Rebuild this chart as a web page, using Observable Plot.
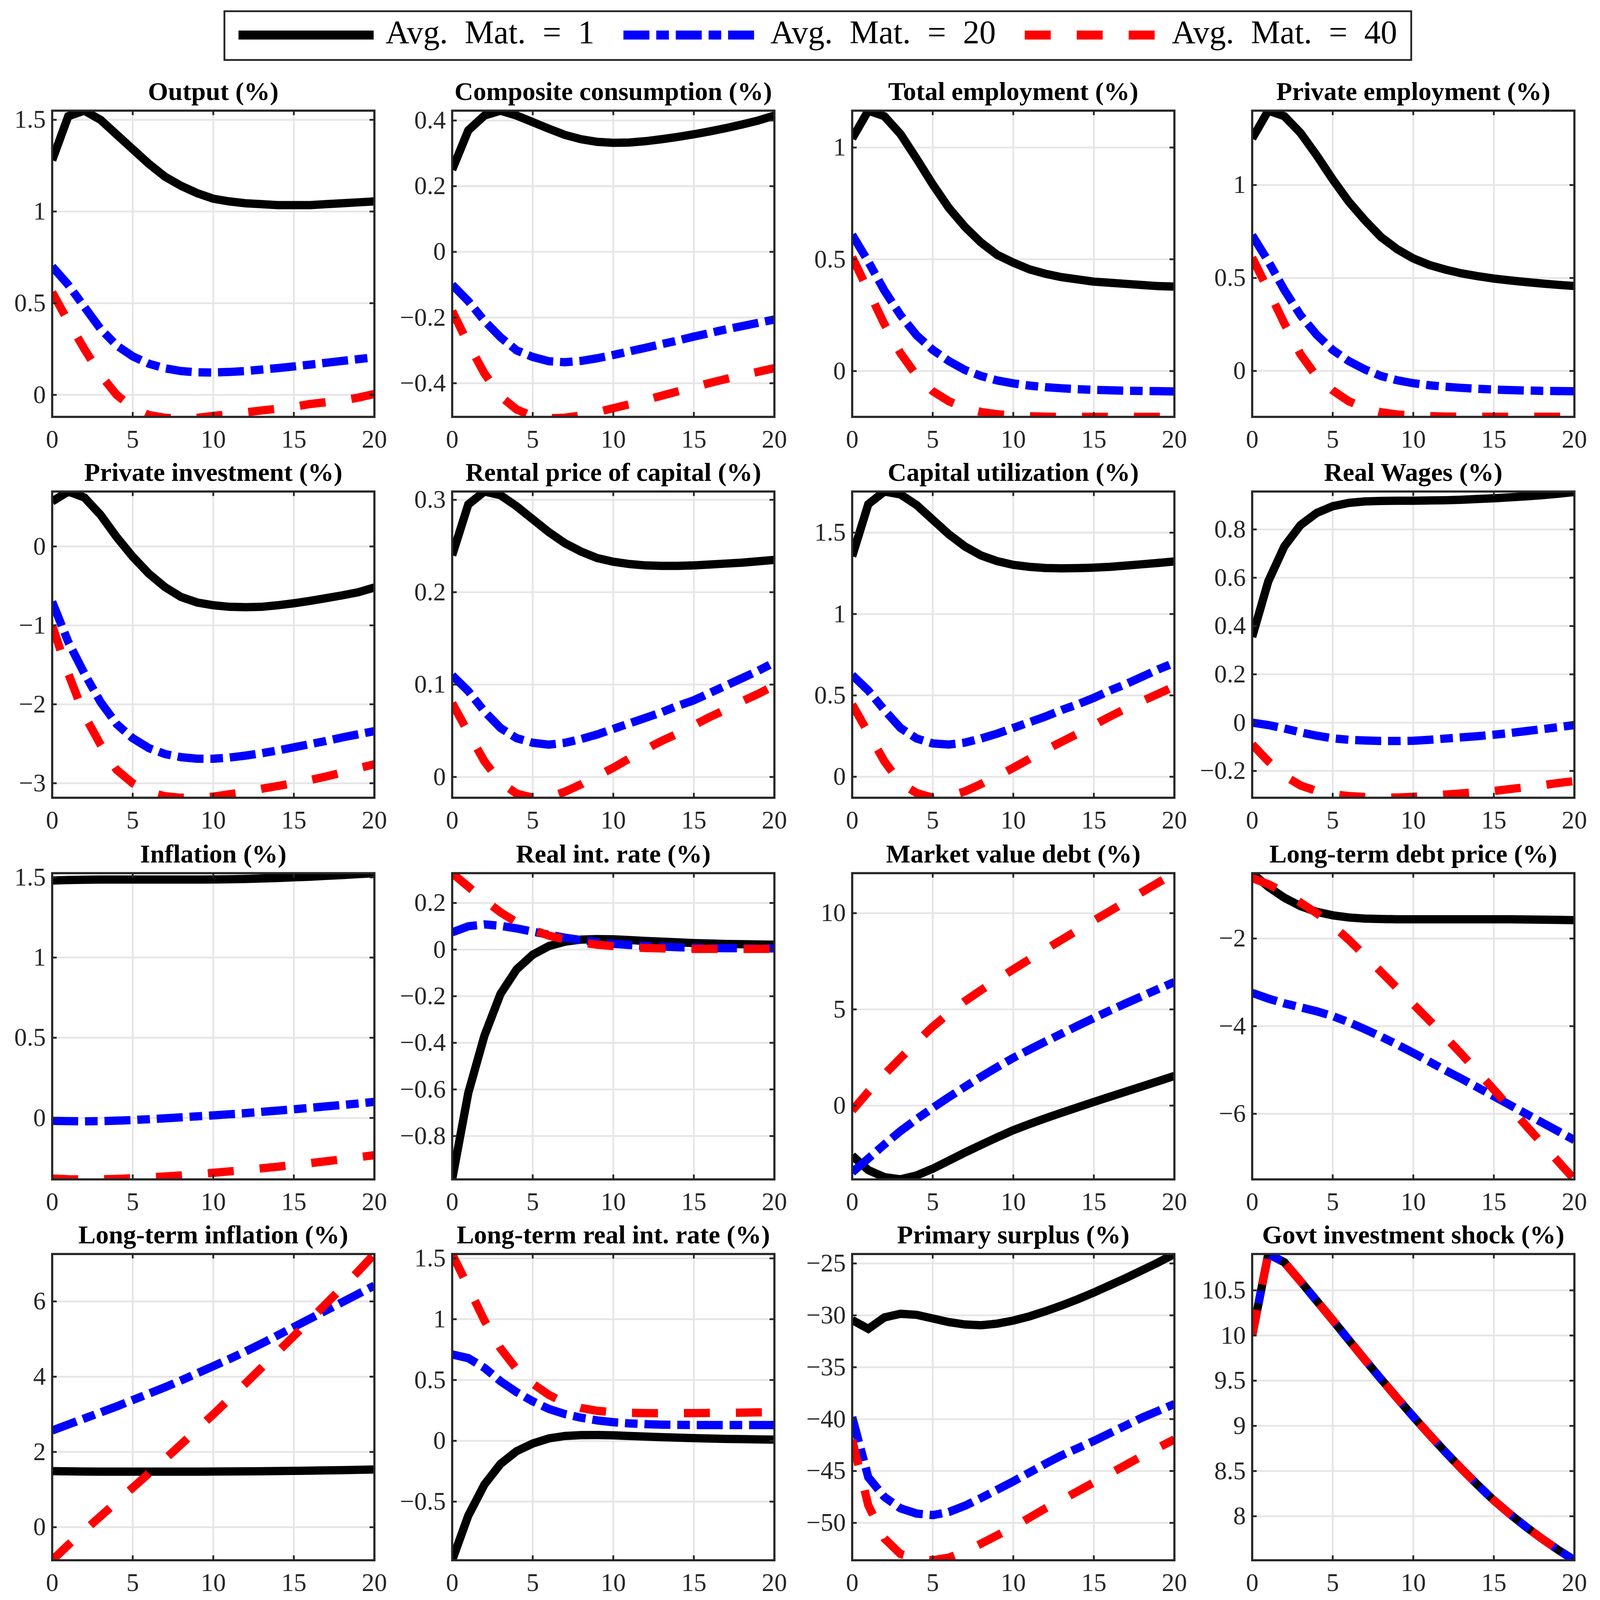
<!DOCTYPE html>
<html><head><meta charset="utf-8">
<script src="https://cdn.jsdelivr.net/npm/d3@7"></script>
<script src="https://cdn.jsdelivr.net/npm/@observablehq/plot@0.6"></script>
<style>
html,body{margin:0;padding:0;background:#fff;overflow:hidden;}
#root{position:relative;background:#fff;overflow:hidden;}
#root svg{position:absolute;overflow:visible;max-width:none;}
</style></head><body><div id="root"></div>
<script>
// ---------- data ----------
const periods = d3.range(0, 21);
const seriesNames = ["Avg. Mat. = 1", "Avg. Mat. = 20", "Avg. Mat. = 40"];
const xTicks = [0, 5, 10, 15, 20];

const output1  = [1.28,1.52,1.55,1.50,1.42,1.34,1.26,1.19,1.14,1.10,1.07,1.055,1.045,1.04,1.035,1.035,1.035,1.04,1.045,1.05,1.055];
const output20 = [0.70,0.60,0.48,0.36,0.27,0.21,0.17,0.145,0.13,0.123,0.122,0.125,0.13,0.138,0.146,0.155,0.165,0.175,0.185,0.195,0.205];
const output40 = [0.56,0.40,0.25,0.11,0.0,-0.07,-0.11,-0.125,-0.13,-0.125,-0.115,-0.105,-0.095,-0.085,-0.075,-0.065,-0.05,-0.04,-0.03,-0.015,0.005];
const outputTicks = [0, 0.5, 1, 1.5];

const cons1  = [0.25,0.37,0.415,0.43,0.415,0.395,0.375,0.356,0.343,0.335,0.332,0.333,0.337,0.343,0.35,0.358,0.367,0.377,0.388,0.40,0.415];
const cons20 = [-0.10,-0.15,-0.21,-0.26,-0.30,-0.32,-0.333,-0.336,-0.332,-0.324,-0.314,-0.303,-0.292,-0.281,-0.27,-0.258,-0.247,-0.236,-0.226,-0.216,-0.206];
const cons40 = [-0.18,-0.28,-0.37,-0.44,-0.48,-0.50,-0.507,-0.505,-0.498,-0.488,-0.476,-0.464,-0.451,-0.438,-0.425,-0.412,-0.399,-0.387,-0.376,-0.365,-0.354];
const consTicks = [-0.4, -0.2, 0, 0.2, 0.4];

const temp1  = [1.04,1.165,1.14,1.06,0.95,0.835,0.73,0.645,0.575,0.52,0.485,0.455,0.435,0.42,0.41,0.40,0.395,0.39,0.385,0.38,0.378];
const temp20 = [0.61,0.49,0.36,0.25,0.16,0.095,0.045,0.005,-0.022,-0.042,-0.055,-0.065,-0.072,-0.077,-0.081,-0.084,-0.086,-0.088,-0.089,-0.09,-0.091];
const temp40 = [0.51,0.36,0.21,0.08,-0.02,-0.09,-0.135,-0.165,-0.183,-0.193,-0.199,-0.202,-0.204,-0.205,-0.205,-0.205,-0.205,-0.205,-0.205,-0.205,-0.205];
const tempTicks = [0, 0.5, 1];

const pemp1  = [1.25,1.40,1.37,1.28,1.16,1.03,0.91,0.81,0.72,0.655,0.605,0.57,0.545,0.525,0.51,0.497,0.487,0.478,0.47,0.463,0.457];
const pemp20 = [0.73,0.59,0.435,0.30,0.195,0.113,0.053,0.008,-0.027,-0.05,-0.066,-0.077,-0.085,-0.091,-0.096,-0.1,-0.103,-0.105,-0.107,-0.108,-0.109];
const pemp40 = [0.61,0.435,0.255,0.09,-0.03,-0.105,-0.163,-0.2,-0.222,-0.234,-0.24,-0.243,-0.245,-0.246,-0.246,-0.246,-0.246,-0.246,-0.246,-0.246,-0.246];
const pempTicks = [0, 0.5, 1];

const pinv1  = [0.57,0.696,0.62,0.40,0.12,-0.13,-0.345,-0.515,-0.64,-0.71,-0.745,-0.765,-0.77,-0.765,-0.745,-0.72,-0.69,-0.655,-0.62,-0.58,-0.52];
const pinv20 = [-0.70,-1.21,-1.61,-1.97,-2.25,-2.43,-2.555,-2.63,-2.67,-2.69,-2.69,-2.675,-2.65,-2.62,-2.585,-2.545,-2.505,-2.465,-2.42,-2.38,-2.34];
const pinv40 = [-1.0,-1.61,-2.14,-2.51,-2.83,-3.0,-3.11,-3.165,-3.184,-3.184,-3.17,-3.14,-3.11,-3.07,-3.035,-3.0,-2.96,-2.915,-2.865,-2.81,-2.76];
const pinvTicks = [-3, -2, -1, 0];

const rent1  = [0.24,0.295,0.309,0.305,0.293,0.279,0.265,0.253,0.244,0.237,0.233,0.2305,0.229,0.2285,0.2285,0.229,0.23,0.231,0.232,0.2335,0.235];
const rent20 = [0.11,0.093,0.071,0.053,0.042,0.037,0.035,0.037,0.041,0.046,0.052,0.058,0.064,0.07,0.077,0.083,0.091,0.099,0.107,0.115,0.124];
const rent40 = [0.08,0.048,0.017,-0.006,-0.018,-0.0225,-0.022,-0.016,-0.008,0.001,0.01,0.02,0.03,0.039,0.047,0.056,0.065,0.073,0.082,0.09,0.099];
const rentTicks = [0, 0.1, 0.2, 0.3];

const util1  = [1.355,1.675,1.753,1.735,1.67,1.58,1.49,1.415,1.36,1.325,1.302,1.29,1.283,1.281,1.282,1.285,1.29,1.298,1.306,1.314,1.323];
const util20 = [0.625,0.53,0.41,0.30,0.235,0.205,0.198,0.21,0.235,0.265,0.30,0.335,0.37,0.41,0.445,0.485,0.53,0.57,0.615,0.66,0.70];
const util40 = [0.445,0.27,0.095,-0.04,-0.10,-0.129,-0.12,-0.09,-0.045,0.003,0.055,0.11,0.165,0.215,0.265,0.318,0.37,0.42,0.465,0.51,0.555];
const utilTicks = [0, 0.5, 1, 1.5];

const wage1  = [0.355,0.585,0.73,0.818,0.868,0.896,0.91,0.916,0.918,0.919,0.919,0.92,0.921,0.923,0.926,0.929,0.933,0.937,0.942,0.948,0.955];
const wage20 = [0.0,-0.01,-0.024,-0.04,-0.054,-0.065,-0.071,-0.074,-0.076,-0.076,-0.075,-0.071,-0.066,-0.061,-0.056,-0.05,-0.043,-0.035,-0.027,-0.019,-0.01];
const wage40 = [-0.09,-0.16,-0.22,-0.26,-0.283,-0.297,-0.304,-0.308,-0.31,-0.31,-0.307,-0.303,-0.298,-0.293,-0.288,-0.283,-0.275,-0.267,-0.259,-0.25,-0.242];
const wageTicks = [-0.2, 0, 0.2, 0.4, 0.6, 0.8];

const infl1  = [1.48,1.483,1.485,1.486,1.486,1.486,1.486,1.486,1.486,1.486,1.487,1.488,1.49,1.493,1.496,1.5,1.504,1.509,1.514,1.52,1.526];
const infl20 = [-0.018,-0.02,-0.021,-0.02,-0.017,-0.013,-0.008,-0.002,0.004,0.01,0.016,0.023,0.03,0.038,0.046,0.054,0.063,0.072,0.081,0.09,0.10];
const infl40 = [-0.378,-0.382,-0.383,-0.383,-0.38,-0.376,-0.371,-0.365,-0.358,-0.35,-0.342,-0.333,-0.324,-0.314,-0.304,-0.293,-0.282,-0.27,-0.258,-0.245,-0.232];
const inflTicks = [0, 0.5, 1, 1.5];

const rate1  = [-0.986,-0.615,-0.37,-0.19,-0.085,-0.022,0.015,0.034,0.043,0.045,0.044,0.041,0.037,0.034,0.031,0.028,0.026,0.024,0.023,0.022,0.021];
const rate20 = [0.074,0.10,0.108,0.102,0.091,0.077,0.064,0.051,0.041,0.032,0.025,0.02,0.016,0.013,0.01,0.008,0.007,0.006,0.006,0.005,0.005];
const rate40 = [0.328,0.27,0.213,0.16,0.117,0.085,0.06,0.043,0.03,0.021,0.015,0.01,0.007,0.005,0.004,0.003,0.003,0.003,0.003,0.003,0.003];
const rateTicks = [-0.8, -0.6, -0.4, -0.2, 0, 0.2];

const mvd1  = [-2.6,-3.35,-3.72,-3.83,-3.63,-3.28,-2.86,-2.44,-2.04,-1.65,-1.28,-0.96,-0.66,-0.37,-0.09,0.19,0.46,0.73,1.0,1.27,1.54];
const mvd20 = [-3.47,-2.75,-2.02,-1.32,-0.70,-0.12,0.44,0.98,1.50,2.00,2.48,2.91,3.33,3.74,4.15,4.55,4.94,5.32,5.69,6.06,6.42];
const mvd40 = [-0.26,0.72,1.62,2.47,3.3,4.1,4.8,5.43,6.0,6.55,7.08,7.6,8.11,8.62,9.12,9.62,10.11,10.6,11.1,11.59,12.08];
const mvdTicks = [0, 5, 10];

const ltdp1  = [-0.508,-0.82,-1.07,-1.26,-1.39,-1.47,-1.52,-1.545,-1.555,-1.56,-1.56,-1.56,-1.56,-1.56,-1.56,-1.56,-1.56,-1.565,-1.57,-1.575,-1.58];
const ltdp20 = [-3.24,-3.37,-3.48,-3.57,-3.66,-3.77,-3.91,-4.07,-4.24,-4.42,-4.61,-4.81,-5.01,-5.2,-5.4,-5.6,-5.8,-6.0,-6.2,-6.4,-6.6];
const ltdp40 = [-0.62,-0.76,-0.95,-1.18,-1.42,-1.7,-2.03,-2.39,-2.76,-3.13,-3.5,-3.87,-4.25,-4.64,-5.04,-5.45,-5.86,-6.27,-6.68,-7.09,-7.497];
const ltdpTicks = [-6, -4, -2];

const lti1  = [1.49,1.485,1.48,1.478,1.477,1.476,1.476,1.476,1.477,1.478,1.48,1.482,1.485,1.488,1.492,1.497,1.503,1.51,1.517,1.525,1.535];
const lti20 = [2.57,2.73,2.89,3.05,3.21,3.38,3.55,3.72,3.9,4.09,4.28,4.47,4.67,4.88,5.1,5.32,5.54,5.76,5.98,6.2,6.42];
const lti40 = [-0.878,-0.47,-0.09,0.29,0.67,1.05,1.43,1.81,2.2,2.6,3.0,3.41,3.82,4.24,4.66,5.08,5.51,5.94,6.37,6.8,7.26];
const ltiTicks = [0, 2, 4, 6];

const ltr1  = [-0.982,-0.615,-0.36,-0.19,-0.085,-0.022,0.02,0.04,0.047,0.048,0.045,0.04,0.035,0.03,0.026,0.022,0.019,0.016,0.014,0.012,0.01];
const ltr20 = [0.71,0.68,0.6,0.49,0.4,0.325,0.262,0.22,0.19,0.168,0.153,0.143,0.137,0.133,0.131,0.13,0.13,0.13,0.13,0.13,0.13];
const ltr40 = [1.536,1.265,0.99,0.76,0.59,0.47,0.378,0.31,0.27,0.247,0.235,0.23,0.228,0.227,0.227,0.228,0.229,0.23,0.232,0.234,0.236];
const ltrTicks = [-0.5, 0, 0.5, 1, 1.5];

const surp1  = [-30.45,-31.3,-30.2,-29.85,-29.95,-30.3,-30.65,-30.88,-30.95,-30.8,-30.5,-30.1,-29.6,-29.05,-28.45,-27.8,-27.1,-26.4,-25.65,-24.9,-24.09];
const surp20 = [-39.8,-45.6,-47.5,-48.6,-49.1,-49.25,-48.95,-48.35,-47.6,-46.8,-46.0,-45.15,-44.3,-43.5,-42.8,-42.1,-41.35,-40.6,-39.85,-39.2,-38.55];
const surp40 = [-42.0,-48.3,-51.5,-53.0,-53.45,-53.6,-53.35,-52.75,-52.0,-51.2,-50.4,-49.5,-48.6,-47.8,-46.95,-46.1,-45.25,-44.4,-43.55,-42.75,-41.95];
const surpTicks = [-50, -45, -40, -35, -30, -25];

const govShock = [10.0,10.902,10.81,10.6,10.385,10.17,9.95,9.732,9.518,9.308,9.103,8.903,8.71,8.524,8.346,8.176,8.024,7.882,7.75,7.627,7.513];
const govTicks = [8, 8.5, 9, 9.5, 10, 10.5];

const panels = [
  {title: "Output (%)", series: [output1, output20, output40], yTicks: outputTicks, yDomain: [-0.12, 1.55]},
  {title: "Composite consumption (%)", series: [cons1, cons20, cons40], yTicks: consTicks, yDomain: [-0.5025, 0.43]},
  {title: "Total employment (%)", series: [temp1, temp20, temp40], yTicks: tempTicks, yDomain: [-0.205, 1.165]},
  {title: "Private employment (%)", series: [pemp1, pemp20, pemp40], yTicks: pempTicks, yDomain: [-0.247, 1.40]},
  {title: "Private investment (%)", series: [pinv1, pinv20, pinv40], yTicks: pinvTicks, yDomain: [-3.184, 0.696]},
  {title: "Rental price of capital (%)", series: [rent1, rent20, rent40], yTicks: rentTicks, yDomain: [-0.0225, 0.309]},
  {title: "Capital utilization (%)", series: [util1, util20, util40], yTicks: utilTicks, yDomain: [-0.129, 1.753]},
  {title: "Real Wages (%)", series: [wage1, wage20, wage40], yTicks: wageTicks, yDomain: [-0.311, 0.957]},
  {title: "Inflation (%)", series: [infl1, infl20, infl40], yTicks: inflTicks, yDomain: [-0.383, 1.526]},
  {title: "Real int. rate (%)", series: [rate1, rate20, rate40], yTicks: rateTicks, yDomain: [-0.986, 0.328]},
  {title: "Market value debt (%)", series: [mvd1, mvd20, mvd40], yTicks: mvdTicks, yDomain: [-3.835, 12.08]},
  {title: "Long-term debt price (%)", series: [ltdp1, ltdp20, ltdp40], yTicks: ltdpTicks, yDomain: [-7.497, -0.508]},
  {title: "Long-term inflation (%)", series: [lti1, lti20, lti40], yTicks: ltiTicks, yDomain: [-0.878, 7.26]},
  {title: "Long-term real int. rate (%)", series: [ltr1, ltr20, ltr40], yTicks: ltrTicks, yDomain: [-0.982, 1.536]},
  {title: "Primary surplus (%)", series: [surp1, surp20, surp40], yTicks: surpTicks, yDomain: [-53.6, -24.09]},
  {title: "Govt investment shock (%)", series: [govShock, govShock, govShock], yTicks: govTicks, yDomain: [7.513, 10.902]}
];

// ---------- layout (designed for 4310x4561, fitted to the real viewport) ----------
const REF_W = 4310, REF_H = 4561;
const VW = window.innerWidth || REF_W, VH = window.innerHeight || REF_H;
const sx = Math.min(1, VW / REF_W), sy = Math.min(1, VH / REF_H);
const fs = Math.sqrt(sx * sy);
const root = document.getElementById("root");
root.style.width = (REF_W * sx) + "px";
root.style.height = (REF_H * sy) + "px";

const FONT = "'Liberation Serif', 'DejaVu Serif', serif";
const AXIS = "#262626";
const GRID = "#e6e6e6";
const dash = arr => arr ? arr.map(v => v * fs).join(",") : null;
const lineStyles = [
  {stroke: "#000000", dash: null},
  {stroke: "#0000ff", dash: [72, 19, 35, 19]},
  {stroke: "#ff0000", dash: [72, 72]}
];
const LW = 23 * fs;

const colLeft = [140, 1218, 2295, 3373].map(v => v * sx);
const rowTop = [315, 1401, 2488, 3574].map(v => v * sy);
const W = 868 * sx, H = 873 * sy;
const ML = 160 * sx, MR = 50 * sx, MT = 120 * sy, MB = 93 * sy;
const TICK = 13 * fs;
const TICK_FONT = 70 * fs, TITLE_FONT = 72 * fs;

const fmt = d => d < 0 ? "\u2212" + String(Math.abs(d)) : String(d);

panels.forEach((p, i) => {
  const rows = [];
  p.series.forEach((vals, s) => vals.forEach((v, k) => rows.push({t: periods[k], v, s})));
  const lineMarks = lineStyles.map((st, s) => Plot.line(rows.filter(r => r.s === s), {
    x: "t", y: "v", stroke: st.stroke, strokeWidth: LW,
    strokeDasharray: dash(st.dash), strokeLinecap: "butt", strokeLinejoin: "miter",
    strokeMiterlimit: 4, clip: true
  }));
  const svg = Plot.plot({
    width: ML + W + MR, height: MT + H + MB,
    marginLeft: ML, marginRight: MR, marginTop: MT, marginBottom: MB,
    x: {domain: [0, 20]},
    y: {domain: p.yDomain},
    style: {fontFamily: FONT, color: AXIS, background: "transparent", overflow: "visible"},
    marks: [
      Plot.ruleX(xTicks, {stroke: GRID, strokeWidth: 5 * fs}),
      Plot.ruleY(p.yTicks, {stroke: GRID, strokeWidth: 5 * fs}),
      ...lineMarks,
      Plot.frame({stroke: AXIS, strokeWidth: 6 * fs}),
      Plot.ruleX(xTicks, {stroke: AXIS, strokeWidth: 5 * fs, insetTop: H - TICK}),
      Plot.ruleX(xTicks, {stroke: AXIS, strokeWidth: 5 * fs, insetBottom: H - TICK}),
      Plot.ruleY(p.yTicks, {stroke: AXIS, strokeWidth: 5 * fs, insetRight: W - TICK}),
      Plot.ruleY(p.yTicks, {stroke: AXIS, strokeWidth: 5 * fs, insetLeft: W - TICK}),
      Plot.axisX(xTicks, {tickSize: 0, tickPadding: 37 * sy, fontSize: TICK_FONT, label: null, tickFormat: fmt}),
      Plot.axisY(p.yTicks, {tickSize: 0, tickPadding: 17 * sx, fontSize: TICK_FONT, label: null, tickFormat: fmt}),
      Plot.text([p.title], {text: d => d, frameAnchor: "top", dy: -30 * sy, lineAnchor: "bottom",
        fontSize: TITLE_FONT, fontWeight: "bold", fill: "#000000"})
    ]
  });
  const c = i % 4, r = Math.floor(i / 4);
  svg.style.left = (colLeft[c] - ML) + "px";
  svg.style.top = (rowTop[r] - MT) + "px";
  root.appendChild(svg);
});

// ---------- legend ----------
const legend = d3.select(root).append("svg")
  .attr("width", REF_W * sx).attr("height", 230 * sy)
  .style("left", "0px").style("top", "0px");
const box = legend.append("rect").attr("fill", "#fff").attr("stroke", AXIS).attr("stroke-width", 5 * fs);
const g = legend.append("g");
const PAD = 38 * sx, SAMPLE = 364 * sx, GAP = 32 * sx, ITEMGAP = 78 * sx, LY = 100 * sy;
let cx = 0;
seriesNames.forEach((name, s) => {
  const st = lineStyles[s];
  g.append("line").attr("x1", cx).attr("x2", cx + SAMPLE).attr("y1", LY).attr("y2", LY)
    .attr("stroke", st.stroke).attr("stroke-width", 25 * fs)
    .attr("stroke-dasharray", dash(st.dash)).attr("stroke-linecap", "butt");
  cx += SAMPLE + GAP;
  const t = g.append("text").attr("x", cx).attr("y", 124 * sy).text(name)
    .attr("font-family", FONT).attr("font-size", 91 * fs).attr("fill", "#000")
    .style("word-spacing", (24 * fs) + "px");
  cx += t.node().getComputedTextLength() + (s < seriesNames.length - 1 ? ITEMGAP : 0);
});
const total = cx + 2 * PAD;
const left = 2203 * sx - total / 2;
g.attr("transform", `translate(${left + PAD},0)`);
box.attr("x", left).attr("y", 32 * sy).attr("width", total).attr("height", 139 * sy);
</script>
</body></html>
